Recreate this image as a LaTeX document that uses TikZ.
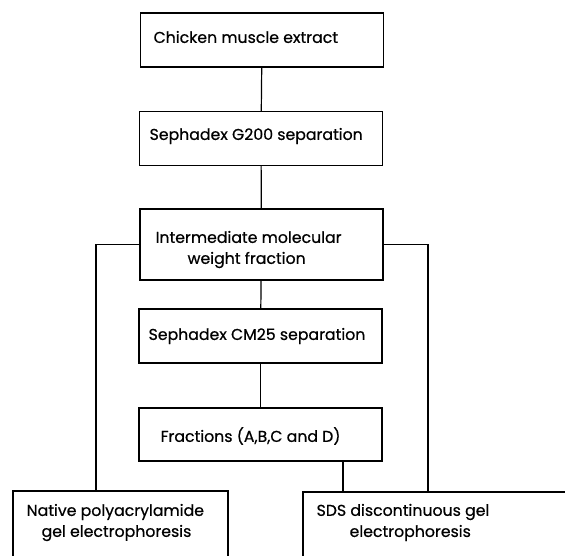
\documentclass[tikz,border=0pt]{standalone}
\usepackage{fontspec}
\setmainfont{Poppins}[FakeBold=0.6]
\tikzset{every picture/.style={line width=0.9pt}}
\tikzset{stepbox/.style={draw, rectangle, inner sep=0pt, minimum width=182.25pt, minimum height=40.5pt}}
\tikzset{label text/.style={anchor=west, inner sep=0pt, font=\fontsize{11.8}{13}\selectfont}}

\begin{document}
\begin{tikzpicture}[x=0.75pt,y=0.75pt,yscale=-1,xscale=1]
\useasboundingbox (0,0) rectangle (565,556);
\clip (0,0) rectangle (565,556);
%Boxes
\node [stepbox] (extract) at (262,40) {};
\node [stepbox] (gtwo) at (261,138.5) {};
\node [stepbox, minimum height=53.25pt] (imw) at (261.5,244.5) {};
\node [stepbox] (cmsep) at (260.5,336) {};
\node [stepbox, minimum height=39.75pt] (fractions) at (260.5,434.5) {};
\node [stepbox, minimum width=161.25pt, minimum height=66pt] (native) at (120.5,535) {};
\node [stepbox, minimum width=222.75pt, minimum height=66pt] (sds) at (451.5,536) {};
%Connectors
\draw (extract) -- (gtwo);
\draw (gtwo) -- (imw);
\draw (imw) -- (cmsep);
\draw (cmsep) -- (fractions);
\draw (imw.west) -| ([xshift=-18.4pt]native.north);
\draw (imw.east) -| ([xshift=-17.6pt]sds.north);
\draw ([xshift=61.9pt]fractions.south) -- ([xshift=61.9pt]fractions.south |- sds.north);
% Text Node
\draw (153,37) node [label text] {Chicken muscle extract};
% Text Node
\draw (149,136) node [label text] {Sephadex G200 separation};
% Text Node
\draw (155,237) node [label text] {Intermediate molecular};
% Text Node
\draw (187,260) node [label text] {weight fraction};
% Text Node
\draw (148,336) node [label text] {Sephadex CM25 separation};
% Text Node
\draw (160,436) node [label text] {Fractions (A,B,C and D)};
% Text Node
\draw (26,512) node [label text] {Native polyacrylamide};
% Text Node
\draw (41,533) node [label text] {gel electrophoresis};
% Text Node
\draw (316,512) node [label text] {SDS discontinuous gel};
% Text Node
\draw (349,533) node [label text] {electrophoresis};
\end{tikzpicture}
\end{document}
